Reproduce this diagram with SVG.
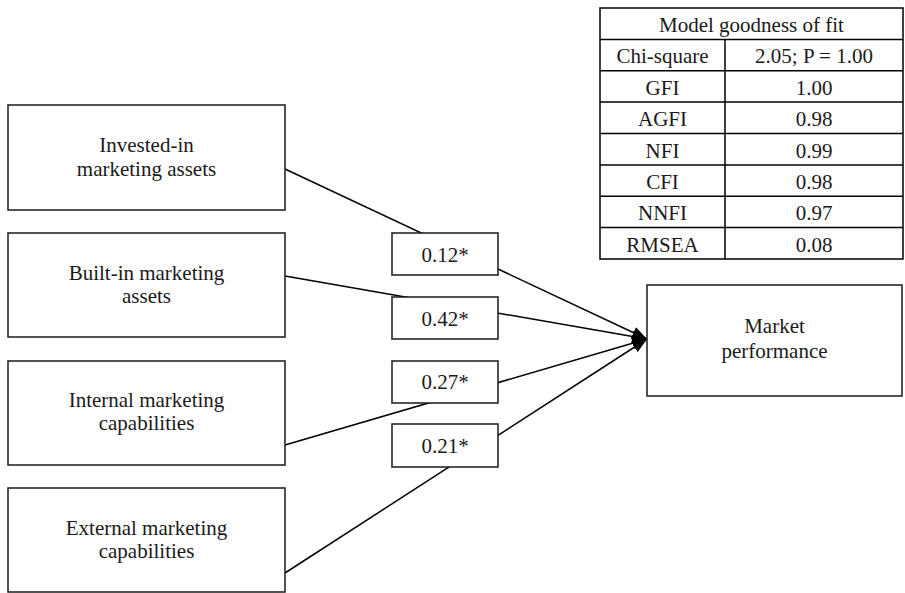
<svg xmlns="http://www.w3.org/2000/svg" width="905" height="593" viewBox="0 0 905 593">
<style>
  .box { fill: #fff; stroke: #1a1a1a; stroke-width: 1.5; }
  .t { font-family: "Liberation Serif", "Times New Roman", serif; font-size: 21px; fill: #1a1a1a; text-anchor: middle; }
  .edge { stroke: #000; stroke-width: 1.5; fill: none; marker-end: url(#arr); }
  .grid { stroke: #000; stroke-width: 1.5; fill: none; }
</style>
<defs>
  <marker id="arr" markerUnits="userSpaceOnUse" markerWidth="15" markerHeight="12" refX="15" refY="6" orient="auto">
    <path d="M0,0 L15,6 L0,12 z" fill="#000"/>
  </marker>
</defs>
<rect width="905" height="593" fill="#fff"/>

<g id="fit-table">
  <rect class="grid" x="600" y="8" width="303" height="251"/>
  <line class="grid" x1="600" y1="39.4" x2="903" y2="39.4"/>
  <line class="grid" x1="600" y1="70.8" x2="903" y2="70.8"/>
  <line class="grid" x1="600" y1="102.1" x2="903" y2="102.1"/>
  <line class="grid" x1="600" y1="133.5" x2="903" y2="133.5"/>
  <line class="grid" x1="600" y1="164.9" x2="903" y2="164.9"/>
  <line class="grid" x1="600" y1="196.3" x2="903" y2="196.3"/>
  <line class="grid" x1="600" y1="227.6" x2="903" y2="227.6"/>
  <line class="grid" x1="725" y1="39.4" x2="725" y2="259"/>
  <text class="t" x="751.5" y="31.5">Model goodness of fit</text>
  <text class="t" x="662.5" y="63">Chi-square</text><text class="t" x="814" y="63">2.05; P = 1.00</text>
  <text class="t" x="662.5" y="94.5">GFI</text><text class="t" x="814" y="94.5">1.00</text>
  <text class="t" x="662.5" y="126">AGFI</text><text class="t" x="814" y="126">0.98</text>
  <text class="t" x="662.5" y="157.5">NFI</text><text class="t" x="814" y="157.5">0.99</text>
  <text class="t" x="662.5" y="189">CFI</text><text class="t" x="814" y="189">0.98</text>
  <text class="t" x="662.5" y="220">NNFI</text><text class="t" x="814" y="220">0.97</text>
  <text class="t" x="662.5" y="251.5">RMSEA</text><text class="t" x="814" y="251.5">0.08</text>
</g>

<g id="connectors">
  <line class="edge" x1="285" y1="169" x2="647" y2="339"/>
  <line class="edge" x1="285" y1="276" x2="647" y2="339"/>
  <line class="edge" x1="285" y1="445" x2="647" y2="339"/>
  <line class="edge" x1="285" y1="573" x2="647" y2="339"/>
</g>

<g id="coef-012"><rect class="box" x="392" y="233" width="106" height="42"/><text class="t" x="445" y="262">0.12*</text></g>
<g id="coef-042"><rect class="box" x="392" y="297" width="106" height="42"/><text class="t" x="445" y="326">0.42*</text></g>
<g id="coef-027"><rect class="box" x="392" y="361" width="106" height="42"/><text class="t" x="445" y="389">0.27*</text></g>
<g id="coef-021"><rect class="box" x="392" y="424" width="106" height="43"/><text class="t" x="445" y="453">0.21*</text></g>

<g id="invested-in">
  <rect class="box" x="8" y="105" width="277" height="105"/>
  <text class="t" x="146.5" y="152">Invested-in</text>
  <text class="t" x="146.5" y="176">marketing assets</text>
</g>
<g id="built-in">
  <rect class="box" x="8" y="233" width="277" height="104"/>
  <text class="t" x="146.5" y="280">Built-in marketing</text>
  <text class="t" x="146.5" y="303">assets</text>
</g>
<g id="internal">
  <rect class="box" x="8" y="361" width="277" height="104"/>
  <text class="t" x="146.5" y="407">Internal marketing</text>
  <text class="t" x="146.5" y="430">capabilities</text>
</g>
<g id="external">
  <rect class="box" x="8" y="488" width="277" height="104"/>
  <text class="t" x="146.5" y="535">External marketing</text>
  <text class="t" x="146.5" y="558">capabilities</text>
</g>
<g id="market-performance">
  <rect class="box" x="647" y="285" width="255" height="111"/>
  <text class="t" x="774.5" y="333">Market</text>
  <text class="t" x="774.5" y="358">performance</text>
</g>
</svg>
